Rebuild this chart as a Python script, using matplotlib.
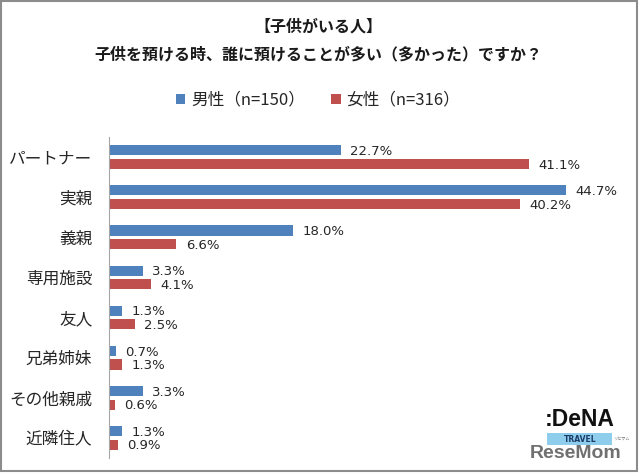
import matplotlib
matplotlib.use("Agg")
import matplotlib.pyplot as plt
import numpy as np
from matplotlib.patches import Rectangle

plt.rcParams['font.family'] = ['Noto Sans CJK JP', 'DejaVu Sans']

categories = ["パートナー", "実親", "義親", "専用施設", "友人", "兄弟姉妹", "その他親戚", "近隣住人"]
male = [22.7, 44.7, 18.0, 3.3, 1.3, 0.7, 3.3, 1.3]
female = [41.1, 40.2, 6.6, 4.1, 2.5, 1.3, 0.6, 0.9]
series_labels = ["男性（n=150）", "女性（n=316）"]
title1 = "【子供がいる人】"
title2 = "子供を預ける時、誰に預けることが多い（多かった）ですか？"

blue = "#4F81BD"
red = "#C0504D"

W, H = 640, 476
fig = plt.figure(figsize=(W/100, H/100), dpi=100)
fig.patch.set_facecolor("white")
# border
fig.add_artist(Rectangle((1/W, 1-471/H), 636/W, 470/H, transform=fig.transFigure,
                         fill=False, edgecolor="#8C8C8C", linewidth=1.5))

ax = fig.add_axes([109/W, 1-458/H, (620-109)/W, (458-137)/H])
y = np.arange(len(categories))
h = 0.25
off = 0.17
ax.barh(y - off, male, height=h, color=blue, label=series_labels[0])
ax.barh(y + off, female, height=h, color=red, label=series_labels[1])
ax.set_ylim(len(categories) - 0.5, -0.5)
ax.set_xlim(0, 50)
for s in ["top", "right", "bottom"]:
    ax.spines[s].set_visible(False)
ax.spines["left"].set_color("#A6A6A6")
ax.set_xticks([])
ax.set_yticks(y)
ax.set_yticklabels(categories, fontsize=12, color="#262626")
ax.tick_params(axis="y", length=0, pad=12)

for i in range(len(categories)):
    ax.text(male[i] + 0.9, y[i] - off + 0.03, f"{male[i]:.1f}%", va="center", ha="left",
            fontsize=9.5, color="#262626", family=['DejaVu Sans'])
    ax.text(female[i] + 0.9, y[i] + off + 0.03, f"{female[i]:.1f}%", va="center", ha="left",
            fontsize=9.5, color="#262626", family=['DejaVu Sans'])

fig.text(318/W, 1-27/H, title1, ha="center", va="center", fontsize=11.5, fontweight="bold", color="#1a1a1a")
fig.text(318/W, 1-54/H, title2, ha="center", va="center", fontsize=11.5, fontweight="bold", color="#1a1a1a")

leg = fig.legend(loc="center", bbox_to_anchor=(318/W, 1-100/H), ncol=2, frameon=False,
                 fontsize=12, handlelength=0.55, handleheight=0.55, handletextpad=0.35,
                 columnspacing=1.6)
for t in leg.get_texts():
    t.set_color("#262626")

# logos (approximate as text)
fig.text(580/W, 1-419/H, ":DeNA", ha="center", va="center", fontsize=16.5, fontweight="bold",
         color="#111111", family=['Liberation Sans'])
fig.add_artist(Rectangle((547/W, 1-445/H), (612-547)/W, (445-433)/H, transform=fig.transFigure,
                         facecolor="#8ECDEB", edgecolor="none"))
fig.text(580/W, 1-439/H, "TRAVEL", ha="center", va="center", fontsize=5.5, fontweight="bold",
         color="#1a3a6a", family=['DejaVu Sans'])
fig.text(576/W, 1-453/H, "ReseMom", ha="center", va="center", fontsize=14, fontweight="bold",
         color="#707070", family=['Liberation Sans'])
fig.text(621/W, 1-439/H, "リセマム", ha="center", va="center", fontsize=3,
         color="#707070")

fig.savefig("out.png", dpi=100, facecolor="white")
